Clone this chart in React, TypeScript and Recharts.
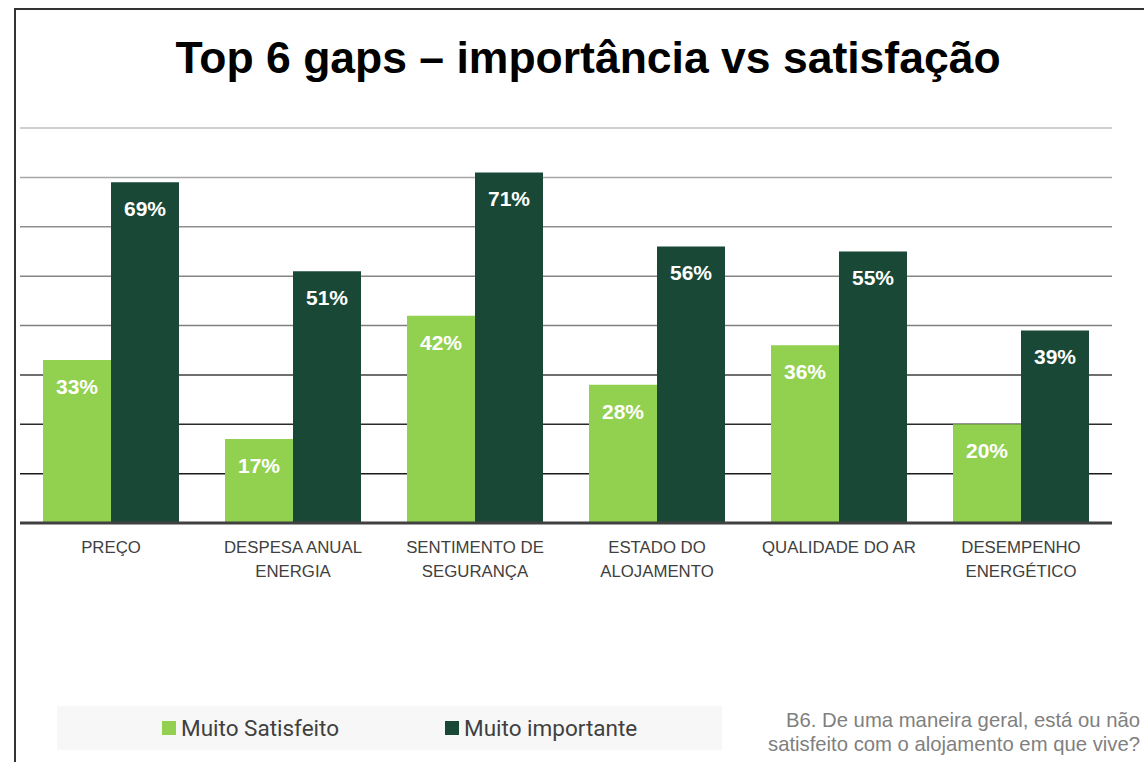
import { BarChart, Bar, XAxis, YAxis, CartesianGrid, LabelList, Legend } from "recharts";

const categories = [
  "PREÇO",
  "DESPESA ANUAL\nENERGIA",
  "SENTIMENTO DE\nSEGURANÇA",
  "ESTADO DO\nALOJAMENTO",
  "QUALIDADE DO AR",
  "DESEMPENHO\nENERGÉTICO",
];
const muitoSatisfeito = [33, 17, 42, 28, 36, 20];
const muitoImportante = [69, 51, 71, 56, 55, 39];
const yTicks = [0, 10, 20, 30, 40, 50, 60, 70, 80];
const footnote = ["B6. De uma maneira geral, está ou não", "satisfeito com o alojamento em que vive?"];

// grid lines get darker toward the bottom, like the source slide
const gridColors = ["#404040", "#1a1a1a", "#2b2b2b", "#3f3f3f", "#7f7f7f", "#858585", "#8f8f8f", "#a6a6a6", "#bfbfbf"];

const LIGHT = "#92d050";
const DARK = "#194836";

const data = categories.map((name, i) => ({
  name,
  satisfeito: muitoSatisfeito[i],
  importante: muitoImportante[i],
}));

const CategoryTick = (props: any) => {
  const { x, y, payload } = props;
  const lines = String(payload.value).split("\n");
  return (
    <g>
      {lines.map((line, i) => (
        <text
          key={i}
          x={x}
          y={y + 22 + i * 24}
          textAnchor="middle"
          fill="#404040"
          fontSize={16.8}
          fontFamily="Liberation Sans, Arial, sans-serif"
        >
          {line}
        </text>
      ))}
    </g>
  );
};

const legendLeft = [105, 388];

const LegendBox = (props: any) => {
  const items = props.payload || [];
  return (
    <div style={{ position: "relative", height: "100%" }}>
      {items.map((it: any, i: number) => (
        <div
          key={i}
          style={{ position: "absolute", left: legendLeft[i], top: 0, height: "100%", display: "flex", alignItems: "center" }}
        >
          <span style={{ width: 14, height: 14, background: it.color, display: "inline-block", marginRight: 5 }} />
          <span style={{ fontFamily: "Roboto, sans-serif", fontSize: 22.5, color: "#404040", whiteSpace: "nowrap" }}>{it.value}</span>
        </div>
      ))}
    </div>
  );
};

export default function App() {
  return (
    <div style={{ position: "absolute", left: 0, top: 0, width: 1144, height: 762, background: "#fff", overflow: "hidden" }}>
      <div
        style={{
          position: "absolute",
          left: 14,
          top: 8,
          width: 1200,
          height: 800,
          borderLeft: "2px solid #333",
          borderTop: "2px solid #333",
        }}
      />
      <div
        style={{
          position: "absolute",
          left: 0,
          width: 1176,
          top: 32,
          textAlign: "center",
          fontFamily: "Liberation Sans, Arial, sans-serif",
          fontWeight: "bold",
          fontSize: 44.5,
          color: "#000",
          lineHeight: "52px",
        }}
      >
        Top 6 gaps – importância vs satisfação
      </div>
      <div style={{ position: "absolute", left: 0, top: 0 }}>
        <BarChart
          width={1144}
          height={762}
          data={data}
          margin={{ top: 128, right: 32, left: 20, bottom: 135 }}
          barGap={0}
          barSize={68}
        >
          <CartesianGrid
            vertical={false}
            horizontal={(p: any) => (
              <line
                key={p.key ?? p.index}
                x1={p.x1}
                x2={p.x2}
                y1={p.y1}
                y2={p.y2}
                stroke={gridColors[p.index] ?? "#999"}
                strokeWidth={1.5}
              />
            )}
          />
          <YAxis hide domain={[0, 80]} ticks={yTicks} />
          <XAxis
            dataKey="name"
            height={60}
            tickLine={false}
            axisLine={{ stroke: "#404040", strokeWidth: 3 }}
            tick={<CategoryTick />}
            interval={0}
          />
          <Legend
            content={<LegendBox />}
            wrapperStyle={{ position: "absolute", left: 57, top: 706, width: 665, height: 44, background: "#f7f7f7" }}
          />
          <Bar dataKey="satisfeito" name="Muito Satisfeito" fill={LIGHT} isAnimationActive={false}>
            <LabelList
              dataKey="satisfeito"
              position="insideTop"
              offset={19}
              fill="#fff"
              fontSize={21}
              fontWeight="bold"
              fontFamily="Liberation Sans, Arial, sans-serif"
              formatter={(v: any) => `${v}%`}
            />
          </Bar>
          <Bar dataKey="importante" name="Muito importante" fill={DARK} isAnimationActive={false}>
            <LabelList
              dataKey="importante"
              position="insideTop"
              offset={19}
              fill="#fff"
              fontSize={21}
              fontWeight="bold"
              fontFamily="Liberation Sans, Arial, sans-serif"
              formatter={(v: any) => `${v}%`}
            />
          </Bar>
        </BarChart>
      </div>
      {footnote.map((line, i) => (
        <div
          key={i}
          style={{
            position: "absolute",
            right: 4,
            top: 709 + i * 24,
            textAlign: "right",
            fontFamily: "Liberation Sans, Arial, sans-serif",
            fontSize: 20.3,
            lineHeight: "23px",
            color: "#808080",
            whiteSpace: "nowrap",
          }}
        >
          {line}
        </div>
      ))}
    </div>
  );
}
